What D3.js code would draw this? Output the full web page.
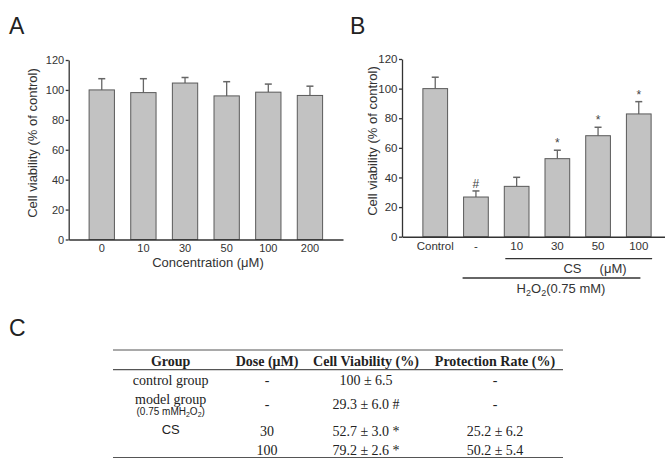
<!DOCTYPE html>
<html>
<head>
<meta charset="utf-8">
<script src="https://cdn.jsdelivr.net/npm/d3@7"></script>
<style>
  body { margin: 0; background: #fff; }
  svg { display: block; }
  .tick text { fill: #333; font-family: "Liberation Sans", Arial, sans-serif; }
</style>
</head>
<body>
<div id="fig"></div>
<script>
// panel A: cell viability vs concentration
var concA = ["0", "10", "30", "50", "100", "200"];
var meanA = [100, 98.2, 104.6, 96, 98.5, 96.3];
var errA = [7.5, 9.3, 3.7, 9.5, 5.4, 6.2];

// panel B: protection against H2O2
var groupsB = ["Control", "-", "10", "30", "50", "100"];
var meanB = [100, 26.8, 34, 52.7, 68.2, 82.9];
var errB = [7.7, 4.1, 6.1, 5.7, 5.7, 8.3];
var sigB = ["", "#", "", "*", "*", "*"];

var yTicks = [0, 20, 40, 60, 80, 100, 120];

// panel C: table
var tableHeader = ["Group", "Dose (\u03BCM)", "Cell Viability (%)", "Protection Rate (%)"];
var tableGroup = ["control group", "model group", "CS", ""];
var tableDose = ["-", "-", "30", "100"];
var tableViab = ["100 \u00B1 6.5", "29.3 \u00B1 6.0 #", "52.7 \u00B1 3.0 *", "79.2 \u00B1 2.6 *"];
var tableProt = ["-", "-", "25.2 \u00B1 6.2", "50.2 \u00B1 5.4"];

var W = 665, H = 458;
var sans = "'Liberation Sans', Arial, sans-serif";
var serif = "'Liberation Serif', 'Times New Roman', serif";

var svg = d3.select("#fig").append("svg")
    .attr("width", W)
    .attr("height", H);

function barPanel(opt) {
    var x = d3.scaleBand().domain(opt.cats).range(opt.xr)
        .paddingInner(opt.pi).paddingOuter(opt.po);
    var y = d3.scaleLinear().domain([0, 120]).range(opt.yr);
    var g = svg.append("g");
    var cx = function(i) { return x(opt.cats[i]) + x.bandwidth() / 2; };

    var bars = g.selectAll("g.bar").data(opt.means).enter().append("g");
    // error bars (upper only)
    bars.append("line")
        .attr("x1", function(d, i) { return cx(i); })
        .attr("x2", function(d, i) { return cx(i); })
        .attr("y1", function(d) { return y(d); })
        .attr("y2", function(d, i) { return y(d + opt.errs[i]); })
        .attr("stroke", "#666").attr("stroke-width", 1.3);
    bars.append("line")
        .attr("x1", function(d, i) { return cx(i) - 3.5; })
        .attr("x2", function(d, i) { return cx(i) + 3.5; })
        .attr("y1", function(d, i) { return y(d + opt.errs[i]); })
        .attr("y2", function(d, i) { return y(d + opt.errs[i]); })
        .attr("stroke", "#666").attr("stroke-width", 1.5);
    bars.append("rect")
        .attr("x", function(d, i) { return x(opt.cats[i]); })
        .attr("width", x.bandwidth())
        .attr("y", function(d) { return y(d); })
        .attr("height", function(d) { return y(0) - y(d); })
        .attr("fill", "#c2c2c2").attr("stroke", "#5a5a5a").attr("stroke-width", 1);

    if (opt.sig) {
        bars.append("text")
            .text(function(d, i) { return opt.sig[i]; })
            .attr("x", function(d, i) { return cx(i); })
            .attr("y", function(d, i) { return y(d + opt.errs[i]) - 3; })
            .attr("text-anchor", "middle")
            .style("font-family", sans).style("font-size", "12px").attr("fill", "#444");
    }

    var ya = g.append("g").attr("transform", "translate(" + opt.xr[0] + ",0)")
        .call(d3.axisLeft(y).tickValues(yTicks).tickSize(3).tickSizeOuter(0).tickPadding(1.5));
    ya.selectAll("text").style("font-size", opt.fs + "px");
    ya.selectAll("line, path").attr("stroke", "#333").attr("stroke-width", 1.3);

    var xa = g.append("g").attr("transform", "translate(0," + opt.yr[0] + ")")
        .call(d3.axisBottom(x).tickSize(0).tickSizeOuter(0).tickPadding(5));
    xa.selectAll("text").style("font-size", opt.fs + "px");
    xa.select("path").attr("stroke", "#333").attr("stroke-width", 1.5);

    return { x: x, y: y };
}

function label(txt, x, y, size) {
    return svg.append("text").text(txt).attr("x", x).attr("y", y)
        .style("font-family", sans).style("font-size", size + "px").attr("fill", "#333");
}

// ---- Panel A
barPanel({ cats: concA, means: meanA, errs: errA,
    xr: [68.7, 343], yr: [239.5, 60], pi: 0.392, po: 0.49, fs: 11 });

label("A", 9, 34, 23).attr("fill", "#222");
svg.append("text").text("Cell viability (% of control)")
    .attr("transform", "translate(37,143) rotate(-90)").attr("text-anchor", "middle")
    .style("font-family", sans).style("font-size", "13px").attr("fill", "#333");
label("Concentration (\u03BCM)", 208, 267, 13).attr("text-anchor", "middle");

// ---- Panel B
var pB = barPanel({ cats: groupsB, means: meanB, errs: errB, sig: sigB,
    xr: [402, 672], yr: [236.7, 59], pi: 0.393, po: 0.513, fs: 11.5 });

label("B", 350, 34, 23).attr("fill", "#222");
svg.append("text").text("Cell viability (% of control)")
    .attr("transform", "translate(377,141) rotate(-90)").attr("text-anchor", "middle")
    .style("font-family", sans).style("font-size", "13px").attr("fill", "#333");

var xB = pB.x;
// CS bracket
svg.append("line")
    .attr("x1", xB("10") + 1).attr("x2", xB("100") + xB.bandwidth() + 1)
    .attr("y1", 258.7).attr("y2", 258.7)
    .attr("stroke", "#333").attr("stroke-width", 1.3);
label("CS     (\u03BCM)", 595, 273, 13).attr("text-anchor", "middle")
    .attr("xml:space", "preserve");
// H2O2 bracket
svg.append("line")
    .attr("x1", xB("-") - 1).attr("x2", xB("100") + 14)
    .attr("y1", 278).attr("y2", 278)
    .attr("stroke", "#333").attr("stroke-width", 1.3);
var h2o = label("", 561, 293, 13).attr("text-anchor", "middle");
h2o.append("tspan").text("H");
h2o.append("tspan").text("2").attr("dy", 3).style("font-size", "9px");
h2o.append("tspan").text("O").attr("dy", -3);
h2o.append("tspan").text("2").attr("dy", 3).style("font-size", "9px");
h2o.append("tspan").text("(0.75 mM)").attr("dy", -3);

// ---- Panel C
label("C", 9, 336, 23).attr("fill", "#222");

var colX = [170.7, 267, 366, 495];
var rowY = [385, 408.5, 436, 455];

[350, 369.7, 457.5].forEach(function(yy) {
    svg.append("line").attr("x1", 113).attr("x2", 563)
        .attr("y1", yy).attr("y2", yy)
        .attr("stroke", "#555").attr("stroke-width", 1.2);
});

svg.append("g").selectAll("text").data(tableHeader).enter().append("text")
    .text(function(d) { return d; })
    .attr("x", function(d, i) { return colX[i]; })
    .attr("y", 365.5)
    .attr("text-anchor", "middle")
    .style("font-family", serif).style("font-size", "14px").style("font-weight", "bold")
    .attr("fill", "#222");

// group column: model group sits higher, CS is in a sans font
var groupY = [385, 403.5, 434, 455];
svg.append("g").selectAll("text").data(tableGroup).enter().append("text")
    .text(function(d) { return d; })
    .attr("x", colX[0])
    .attr("y", function(d, i) { return groupY[i]; })
    .attr("text-anchor", "middle")
    .style("font-family", function(d) { return d === "CS" ? sans : serif; })
    .style("font-size", function(d) { return d === "CS" ? "13px" : "14px"; })
    .attr("fill", "#222");

[tableDose, tableViab, tableProt].forEach(function(col, c) {
    svg.append("g").selectAll("text").data(col).enter().append("text")
        .text(function(d) { return d; })
        .attr("x", colX[c + 1])
        .attr("y", function(d, i) { return rowY[i]; })
        .attr("text-anchor", "middle")
        .style("font-family", serif).style("font-size", "14px")
        .attr("fill", "#222");
});

var sub = svg.append("text").attr("x", 170.7).attr("y", 415).attr("text-anchor", "middle")
    .style("font-family", sans).style("font-size", "10px").attr("fill", "#222");
sub.append("tspan").text("(0.75 mMH");
sub.append("tspan").text("2").attr("dy", 2).style("font-size", "7px");
sub.append("tspan").text("O").attr("dy", -2);
sub.append("tspan").text("2").attr("dy", 2).style("font-size", "7px");
sub.append("tspan").text(")").attr("dy", -2);
</script>
</body>
</html>
